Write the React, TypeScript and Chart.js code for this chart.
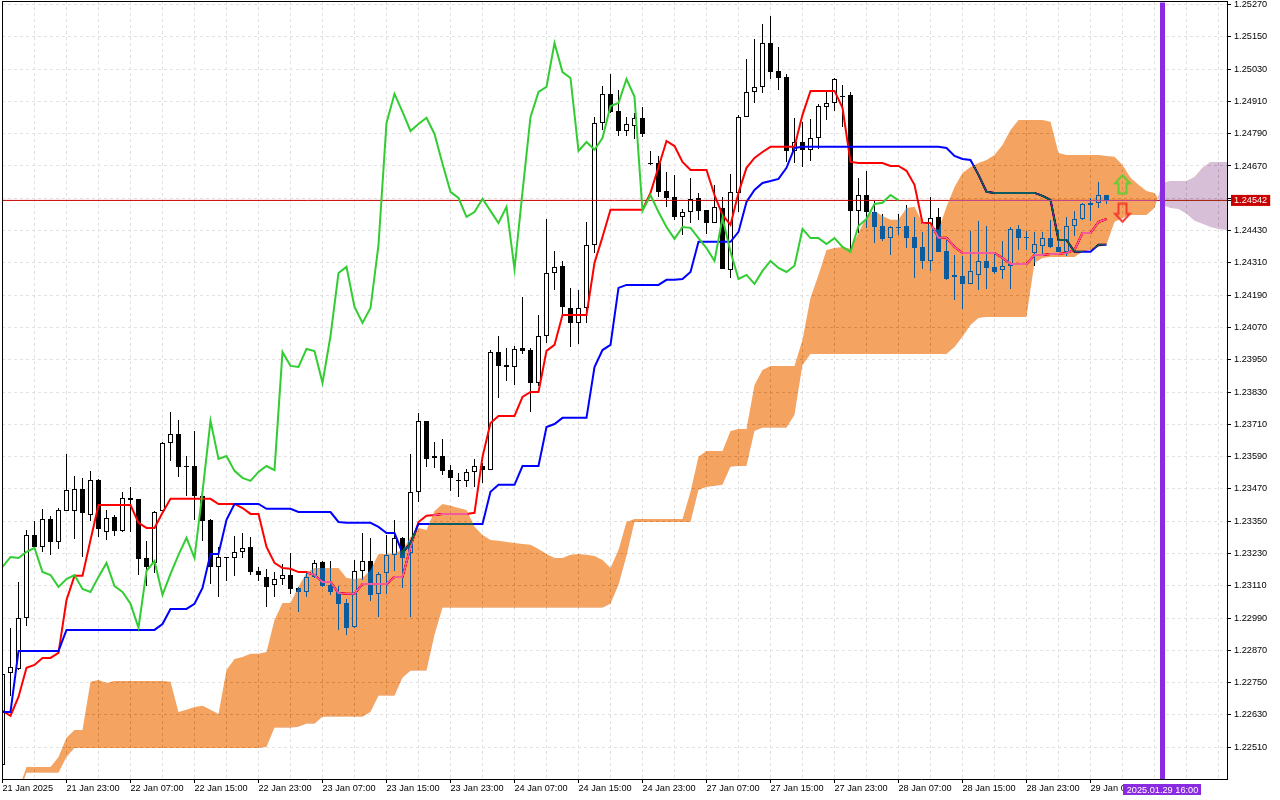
import { useEffect, useRef } from "react";
import { Chart, registerables } from "chart.js";

const opens = [1.22444,1.22786,1.22801,1.22990,1.23299,1.23254,1.23358,1.23273,1.23388,1.23388,1.23470,1.23373,1.23503,1.23310,1.23366,1.23314,1.23436,1.23433,1.23213,1.23195,1.23388,1.23641,1.23674,1.23555,1.23555,1.23444,1.23355,1.23180,1.23217,1.23213,1.23236,1.23254,1.23165,1.23143,1.23113,1.23135,1.23150,1.23102,1.23087,1.23143,1.23199,1.23113,1.23087,1.23046,1.22957,1.23165,1.23202,1.23080,1.23158,1.23225,1.23288,1.23232,1.23459,1.23723,1.23585,1.23592,1.23540,1.23503,1.23500,1.23533,1.23555,1.23540,1.23979,1.23930,1.23923,1.23994,1.23986,1.23864,1.24038,1.24272,1.24299,1.24142,1.24087,1.24142,1.24377,1.24830,1.24938,1.24875,1.24800,1.24819,1.24849,1.24681,1.24681,1.24577,1.24555,1.24481,1.24499,1.24551,1.24507,1.24458,1.24514,1.24284,1.24570,1.24852,1.24945,1.24964,1.25127,1.25023,1.25001,1.24726,1.24759,1.24730,1.24774,1.24889,1.24904,1.24930,1.24934,1.24503,1.24562,1.24499,1.24447,1.24402,1.24443,1.24447,1.24406,1.24369,1.24317,1.24481,1.24355,1.24258,1.24261,1.24232,1.24265,1.24317,1.24295,1.24284,1.24299,1.24436,1.24406,1.24347,1.24373,1.24402,1.24369,1.24351,1.24447,1.24473,1.24525,1.24533,1.24562];
const highs = [1.22790,1.22954,1.23124,1.23318,1.23351,1.23396,1.23370,1.23399,1.23600,1.23518,1.23511,1.23537,1.23507,1.23392,1.23373,1.23459,1.23477,1.23433,1.23276,1.23388,1.23645,1.23756,1.23726,1.23592,1.23685,1.23448,1.23358,1.23254,1.23217,1.23295,1.23306,1.23291,1.23180,1.23173,1.23161,1.23191,1.23232,1.23106,1.23161,1.23206,1.23202,1.23202,1.23109,1.23061,1.23206,1.23306,1.23288,1.23161,1.23299,1.23355,1.23291,1.23600,1.23752,1.23723,1.23645,1.23656,1.23559,1.23529,1.23544,1.23581,1.23566,1.23986,1.24038,1.23994,1.24001,1.24183,1.23994,1.24116,1.24473,1.24355,1.24317,1.24217,1.24209,1.24462,1.24852,1.24967,1.25012,1.24953,1.24852,1.24867,1.24889,1.24726,1.24707,1.24648,1.24637,1.24510,1.24626,1.24570,1.24507,1.24600,1.24555,1.24640,1.24860,1.25068,1.25142,1.25198,1.25228,1.25112,1.25012,1.24849,1.24834,1.24845,1.24901,1.24945,1.24997,1.24971,1.24945,1.24626,1.24652,1.24540,1.24492,1.24447,1.24492,1.24525,1.24481,1.24425,1.24555,1.24514,1.24395,1.24339,1.24336,1.24429,1.24466,1.24447,1.24343,1.24392,1.24443,1.24451,1.24429,1.24425,1.24425,1.24470,1.24432,1.24481,1.24503,1.24533,1.24551,1.24611,1.24562];
const lows = [1.22437,1.22701,1.22797,1.22960,1.23254,1.23236,1.23225,1.23247,1.23388,1.23284,1.23217,1.23351,1.23291,1.23280,1.23295,1.23310,1.23310,1.23150,1.23109,1.23158,1.23388,1.23574,1.23514,1.23444,1.23355,1.23277,1.23117,1.23069,1.23128,1.23147,1.23213,1.23150,1.23128,1.23031,1.23069,1.23113,1.23080,1.23013,1.23069,1.23139,1.23106,1.23076,1.22946,1.22927,1.22954,1.23132,1.23054,1.22994,1.23080,1.23165,1.23102,1.22994,1.23422,1.23552,1.23548,1.23522,1.23462,1.23440,1.23477,1.23477,1.23492,1.23540,1.23808,1.23871,1.23856,1.23971,1.23756,1.23853,1.24012,1.24209,1.24116,1.23997,1.24008,1.24087,1.24347,1.24804,1.24867,1.24782,1.24782,1.24771,1.24778,1.24674,1.24555,1.24518,1.24470,1.24414,1.24458,1.24470,1.24418,1.24458,1.24287,1.24254,1.24499,1.24852,1.24904,1.24941,1.24993,1.24953,1.24685,1.24681,1.24666,1.24689,1.24733,1.24841,1.24875,1.24815,1.24358,1.24421,1.24440,1.24384,1.24392,1.24339,1.24414,1.24365,1.24254,1.24287,1.24280,1.24351,1.24247,1.24172,1.24139,1.24232,1.24209,1.24213,1.24269,1.24250,1.24213,1.24358,1.24358,1.24299,1.24343,1.24365,1.24351,1.24336,1.24410,1.24470,1.24466,1.24514,1.24529];
const closes = [1.22783,1.22809,1.22990,1.23299,1.23254,1.23358,1.23273,1.23392,1.23466,1.23470,1.23381,1.23503,1.23321,1.23362,1.23314,1.23436,1.23429,1.23210,1.23180,1.23384,1.23641,1.23674,1.23552,1.23552,1.23444,1.23351,1.23180,1.23217,1.23213,1.23236,1.23251,1.23161,1.23150,1.23106,1.23135,1.23150,1.23098,1.23087,1.23143,1.23195,1.23109,1.23087,1.23043,1.22954,1.23165,1.23202,1.23076,1.23154,1.23225,1.23288,1.23213,1.23459,1.23723,1.23581,1.23592,1.23537,1.23511,1.23500,1.23533,1.23555,1.23540,1.23979,1.23927,1.23923,1.23990,1.23982,1.23864,1.24038,1.24272,1.24295,1.24146,1.24087,1.24142,1.24377,1.24830,1.24938,1.24871,1.24800,1.24826,1.24849,1.24789,1.24678,1.24574,1.24551,1.24481,1.24499,1.24548,1.24503,1.24458,1.24518,1.24287,1.24574,1.24852,1.24945,1.24964,1.25127,1.25019,1.24997,1.24726,1.24759,1.24730,1.24774,1.24893,1.24904,1.24993,1.24927,1.24503,1.24562,1.24499,1.24443,1.24399,1.24443,1.24440,1.24402,1.24365,1.24317,1.24477,1.24351,1.24250,1.24265,1.24232,1.24280,1.24317,1.24291,1.24276,1.24299,1.24436,1.24402,1.24402,1.24380,1.24402,1.24369,1.24351,1.24447,1.24473,1.24529,1.24533,1.24562,1.24542];
const tenkan = [1.22645,1.22627,1.22697,1.22805,1.22816,1.22842,1.22842,1.22861,1.23057,1.23147,1.23147,1.23280,1.23410,1.23410,1.23410,1.23410,1.23410,1.23344,1.23325,1.23325,1.23381,1.23433,1.23433,1.23433,1.23433,1.23433,1.23433,1.23414,1.23414,1.23414,1.23399,1.23377,1.23377,1.23254,1.23195,1.23176,1.23173,1.23161,1.23161,1.23150,1.23124,1.23124,1.23083,1.23080,1.23080,1.23117,1.23117,1.23117,1.23117,1.23143,1.23143,1.23254,1.23347,1.23370,1.23373,1.23377,1.23377,1.23377,1.23377,1.23381,1.23589,1.23715,1.23741,1.23741,1.23741,1.23812,1.23830,1.23830,1.23983,1.24005,1.24116,1.24116,1.24116,1.24116,1.24310,1.24406,1.24507,1.24507,1.24507,1.24507,1.24507,1.24570,1.24666,1.24763,1.24744,1.24685,1.24655,1.24655,1.24655,1.24562,1.24488,1.24451,1.24570,1.24663,1.24700,1.24722,1.24741,1.24741,1.24741,1.24741,1.24860,1.24949,1.24949,1.24949,1.24949,1.24886,1.24685,1.24681,1.24681,1.24681,1.24681,1.24670,1.24670,1.24652,1.24600,1.24458,1.24458,1.24403,1.24403,1.24369,1.24347,1.24347,1.24347,1.24347,1.24347,1.24328,1.24306,1.24306,1.24306,1.24339,1.24339,1.24343,1.24343,1.24347,1.24358,1.24421,1.24421,1.24462,1.24473];
const kijun = [1.22641,1.22641,1.22868,1.22868,1.22868,1.22868,1.22868,1.22868,1.22946,1.22946,1.22946,1.22946,1.22946,1.22946,1.22946,1.22946,1.22946,1.22946,1.22946,1.22946,1.22968,1.23024,1.23024,1.23024,1.23043,1.23102,1.23228,1.23228,1.23355,1.23414,1.23414,1.23414,1.23414,1.23396,1.23396,1.23396,1.23396,1.23384,1.23384,1.23384,1.23384,1.23384,1.23347,1.23344,1.23344,1.23344,1.23344,1.23329,1.23306,1.23306,1.23232,1.23269,1.23340,1.23340,1.23340,1.23340,1.23340,1.23340,1.23340,1.23340,1.23340,1.23459,1.23485,1.23485,1.23485,1.23555,1.23555,1.23555,1.23700,1.23711,1.23734,1.23734,1.23734,1.23734,1.23923,1.23986,1.24005,1.24217,1.24228,1.24228,1.24228,1.24228,1.24228,1.24247,1.24247,1.24250,1.24276,1.24388,1.24388,1.24388,1.24388,1.24388,1.24425,1.24536,1.24581,1.24607,1.24614,1.24622,1.24663,1.24737,1.24741,1.24741,1.24741,1.24741,1.24741,1.24741,1.24741,1.24741,1.24741,1.24741,1.24741,1.24741,1.24741,1.24741,1.24741,1.24741,1.24741,1.24741,1.24737,1.24707,1.24696,1.24692,1.24637,1.24574,1.24570,1.24570,1.24570,1.24570,1.24570,1.24570,1.24559,1.24544,1.24395,1.24395,1.24351,1.24351,1.24351,1.24377,1.24377];
const chikou = [1.23180,1.23217,1.23213,1.23236,1.23251,1.23161,1.23150,1.23106,1.23135,1.23150,1.23098,1.23087,1.23143,1.23195,1.23109,1.23087,1.23043,1.22954,1.23165,1.23202,1.23076,1.23154,1.23225,1.23288,1.23213,1.23459,1.23723,1.23581,1.23592,1.23537,1.23511,1.23500,1.23533,1.23555,1.23540,1.23979,1.23927,1.23923,1.23990,1.23982,1.23864,1.24038,1.24272,1.24295,1.24146,1.24087,1.24142,1.24377,1.24830,1.24938,1.24871,1.24800,1.24826,1.24849,1.24789,1.24678,1.24574,1.24551,1.24481,1.24499,1.24548,1.24503,1.24458,1.24518,1.24287,1.24574,1.24852,1.24945,1.24964,1.25127,1.25019,1.24997,1.24726,1.24759,1.24730,1.24774,1.24893,1.24904,1.24993,1.24927,1.24503,1.24562,1.24499,1.24443,1.24399,1.24443,1.24440,1.24402,1.24365,1.24317,1.24477,1.24351,1.24250,1.24265,1.24232,1.24280,1.24317,1.24291,1.24276,1.24299,1.24436,1.24402,1.24402,1.24380,1.24402,1.24369,1.24351,1.24447,1.24473,1.24529,1.24533,1.24562,1.24542];
const spanA = [1.22314,1.22314,1.22351,1.22437,1.22437,1.22437,1.22437,1.22474,1.22545,1.22574,1.22574,1.22753,1.22760,1.22749,1.22756,1.22756,1.22756,1.22756,1.22756,1.22756,1.22756,1.22753,1.22641,1.22649,1.22660,1.22664,1.22649,1.22634,1.22797,1.22838,1.22845,1.22857,1.22857,1.22864,1.22983,1.23046,1.23046,1.23106,1.23158,1.23176,1.23176,1.23176,1.23176,1.23139,1.23135,1.23139,1.23169,1.23228,1.23228,1.23232,1.23243,1.23291,1.23325,1.23317,1.23388,1.23414,1.23407,1.23399,1.23392,1.23329,1.23299,1.23280,1.23277,1.23273,1.23269,1.23265,1.23262,1.23247,1.23228,1.23213,1.23213,1.23225,1.23228,1.23225,1.23221,1.23206,1.23176,1.23243,1.23347,1.23358,1.23358,1.23358,1.23358,1.23358,1.23358,1.23358,1.23459,1.23589,1.23611,1.23611,1.23611,1.23685,1.23693,1.23693,1.23856,1.23912,1.23927,1.23927,1.23927,1.23927,1.24024,1.24180,1.24265,1.24358,1.24365,1.24369,1.24362,1.24421,1.24481,1.24503,1.24484,1.24470,1.24470,1.24514,1.24518,1.24458,1.24451,1.24432,1.24518,1.24592,1.24644,1.24666,1.24681,1.24692,1.24711,1.24748,1.24804,1.24841,1.24841,1.24841,1.24841,1.24834,1.24718,1.24711,1.24711,1.24711,1.24711,1.24711,1.24707,1.24704,1.24674,1.24626,1.24600,1.24577,1.24570,1.24525,1.24514,1.24510,1.24492,1.24466,1.24455,1.24443,1.24436,1.24432,1.24432];
const spanB = [1.22277,1.22277,1.22333,1.22415,1.22415,1.22415,1.22415,1.22415,1.22474,1.22507,1.22507,1.22507,1.22507,1.22507,1.22507,1.22507,1.22507,1.22507,1.22507,1.22507,1.22507,1.22507,1.22507,1.22507,1.22507,1.22507,1.22507,1.22507,1.22507,1.22507,1.22507,1.22507,1.22507,1.22511,1.22582,1.22582,1.22582,1.22586,1.22597,1.22597,1.22623,1.22623,1.22623,1.22623,1.22623,1.22623,1.22641,1.22701,1.22701,1.22701,1.22768,1.22794,1.22794,1.22794,1.22927,1.23028,1.23028,1.23028,1.23028,1.23028,1.23028,1.23028,1.23028,1.23028,1.23028,1.23028,1.23028,1.23028,1.23028,1.23028,1.23028,1.23028,1.23028,1.23028,1.23028,1.23028,1.23043,1.23113,1.23221,1.23347,1.23347,1.23347,1.23347,1.23347,1.23347,1.23347,1.23347,1.23466,1.23477,1.23481,1.23485,1.23552,1.23555,1.23555,1.23685,1.23697,1.23697,1.23697,1.23697,1.23745,1.23930,1.23971,1.23971,1.23971,1.23971,1.23971,1.23971,1.23971,1.23971,1.23971,1.23971,1.23971,1.23971,1.23971,1.23971,1.23971,1.23971,1.23971,1.23971,1.23997,1.24035,1.24079,1.24105,1.24109,1.24109,1.24109,1.24109,1.24109,1.24109,1.24310,1.24328,1.24332,1.24332,1.24332,1.24332,1.24351,1.24358,1.24369,1.24377,1.24462,1.24477,1.24488,1.24488,1.24488,1.24514,1.24607,1.24614,1.24614,1.24614,1.24629,1.24663,1.24685,1.24685,1.24685,1.24685];
const priceTicks = [1.2251,1.2263,1.2275,1.2287,1.2299,1.2311,1.2323,1.2335,1.2347,1.2359,1.2371,1.2383,1.2395,1.2407,1.2419,1.2431,1.2443,1.2455,1.2467,1.2479,1.2491,1.2503,1.2515,1.2527];
const timeLabels = ["21 Jan 2025","21 Jan 23:00","22 Jan 07:00","22 Jan 15:00","22 Jan 23:00","23 Jan 07:00","23 Jan 15:00","23 Jan 23:00","24 Jan 07:00","24 Jan 15:00","24 Jan 23:00","27 Jan 07:00","27 Jan 15:00","27 Jan 23:00","28 Jan 07:00","28 Jan 15:00","28 Jan 23:00","29 Jan 07:00"];
const bidPrice = 1.24542;
const hiddenPriceLabel = 1.2455;
const cursorBar = 145;
const cursorLabel = "2025.01.29 16:00";
const buyArrow = { bar: 140, price: 1.24602 };
const sellArrow = { bar: 140, price: 1.24496 };

const Y_MIN = 1.22392;
const Y_MAX = 1.25283;
const X_MIN = -0.0625;
const X_MAX = 153.0625;
const FONT = "'Liberation Sans', Arial, sans-serif";
const FONT_SIZE = 9.2;
const GRID = "#E2E2E2";
const CLOUD_UP_XOR = "#0B5B9F";
const CLOUD_DOWN_XOR = "#274027";
const PURPLE = "#8A2BE2";

const xy = (arr: number[]) => arr.map((y, x) => ({ x, y }));

function arrowImage(color: string, up: boolean) {
  const c = document.createElement("canvas");
  c.width = 19;
  c.height = 21;
  const g = c.getContext("2d")!;
  const pts = [[9.5, 1.5], [17, 9.5], [13.5, 9.5], [13.5, 19.5], [5.5, 19.5], [5.5, 9.5], [2, 9.5]];
  g.beginPath();
  pts.forEach(([x, y], i) => {
    const py = up ? y : 21 - y;
    if (i) g.lineTo(x, py);
    else g.moveTo(x, py);
  });
  g.closePath();
  g.lineWidth = 2;
  g.strokeStyle = color;
  g.lineJoin = "miter";
  g.stroke();
  return c;
}

const pixelPlugin = {
  id: "pixelBlend",
  beforeDatasetDraw(chart: any, args: any) {
    const ds = chart.data.datasets[args.index];
    if (ds.label === "Senkou Span A") chart.ctx.globalCompositeOperation = "difference";
    if (args.meta.type === "bar") {
      for (const el of args.meta.data) {
        const top = Math.round(el.y);
        let base = Math.round(el.base);
        if (base === top) base = top + 1;
        el.y = top;
        el.base = base;
        el.height = base - top;
        el.x = Math.floor(el.x) + 0.5;
      }
    }
  },
  afterDatasetDraw(chart: any) {
    chart.ctx.globalCompositeOperation = "source-over";
  },
};

const framePlugin = {
  id: "frame",
  beforeDraw(chart: any) {
    const { ctx, width, height } = chart;
    ctx.save();
    ctx.fillStyle = "#fff";
    ctx.fillRect(0, 0, width, height);
    ctx.restore();
  },
  afterDraw(chart: any) {
    const { ctx, chartArea } = chart;
    ctx.save();
    ctx.fillStyle = "#000";
    ctx.fillRect(chartArea.left, chartArea.top, chartArea.right - chartArea.left, 1);
    ctx.fillRect(chartArea.left, chartArea.top, 1, chartArea.bottom - chartArea.top);
    const cx = chart.scales.x.getPixelForValue(cursorBar);
    ctx.fillStyle = PURPLE;
    ctx.fillRect(cx - 39.5, 784, 78, 11);
    ctx.fillStyle = "#fff";
    ctx.font = `${FONT_SIZE}px ${FONT}`;
    ctx.textAlign = "center";
    ctx.textBaseline = "middle";
    ctx.fillText(cursorLabel, cx, 790);
    ctx.restore();
  },
};

Chart.register(pixelPlugin);
Chart.register(...registerables);

export default function App() {
  const ref = useRef<HTMLCanvasElement>(null);
  useEffect(() => {
    const line = { type: "line", pointRadius: 0, tension: 0, borderWidth: 2, fill: false };
    const chart = new Chart(ref.current!, {
      type: "bar",
      data: {
        datasets: [
          { type: "bar", label: "Wick", order: 9, grouped: false, barThickness: 1, borderWidth: 0, inflateAmount: 0,
            backgroundColor: "#000", data: lows.map((l, x) => ({ x, y: [l, highs[x]] })) },
          { type: "bar", label: "Body", order: 8, grouped: false, barThickness: 5, borderWidth: 1, borderSkipped: false, inflateAmount: 0,
            borderColor: "#000", backgroundColor: opens.map((o, i) => (closes[i] >= o ? "#fff" : "#000")),
            data: opens.map((o, x) => ({ x, y: [o, closes[x]] })) },
          { ...line, label: "Tenkan-sen", order: 7, borderColor: "#FF0000", data: xy(tenkan) },
          { ...line, label: "Kijun-sen", order: 6, borderColor: "#0000FF", data: xy(kijun) },
          { ...line, label: "Bid", order: 5, borderWidth: 1, borderColor: "#C80000", data: [{ x: X_MIN, y: bidPrice }, { x: X_MAX, y: bidPrice }] },
          { ...line, label: "Senkou Span A", order: 4, showLine: false, borderWidth: 0,
            fill: { target: "+1", above: CLOUD_UP_XOR, below: CLOUD_DOWN_XOR }, data: xy(spanA) },
          { ...line, label: "Senkou Span B", order: 3, showLine: false, borderWidth: 0, data: xy(spanB) },
          { ...line, label: "Chikou Span", order: 2, borderColor: "#32CD32", data: xy(chikou) },
          { ...line, label: "Cursor", order: 1, borderWidth: 5, borderColor: PURPLE, data: [{ x: cursorBar, y: Y_MIN }, { x: cursorBar, y: 1.25277 }] },
          { type: "scatter", label: "Buy", order: 0, pointRadius: 10, pointStyle: arrowImage("#66CC33", true), data: [{ x: buyArrow.bar, y: buyArrow.price }] },
          { type: "scatter", label: "Sell", order: 0, pointRadius: 10, pointStyle: arrowImage("#F23A2E", false), data: [{ x: sellArrow.bar, y: sellArrow.price }] },
        ] as any,
      },
      options: {
        responsive: false,
        animation: false,
        devicePixelRatio: 1,
        events: [],
        layout: { padding: { left: 2, top: 1, right: 0, bottom: 0 }, autoPadding: false },
        plugins: { legend: { display: false }, tooltip: { enabled: false }, title: { display: false } },
        scales: {
          x: {
            type: "linear",
            min: X_MIN,
            max: X_MAX,
            offset: false,
            afterFit: (s: any) => { s.height = 21; s.paddingLeft = 0; s.paddingRight = 0; s.paddingTop = 0; s.paddingBottom = 0; },
            afterBuildTicks: (s: any) => {
              const t = [];
              for (let i = 0; i <= X_MAX; i += 4) t.push({ value: i });
              s.ticks = t;
            },
            border: { color: "#000", width: 1, dash: [3, 3] },
            grid: {
              offset: false,
              color: GRID,
              tickLength: 4,
              tickBorderDash: [],
              tickColor: (c: any) => (c.tick && c.tick.value % 8 === 0 && timeLabels[c.tick.value / 8] ? "#000" : "rgba(0,0,0,0)"),
            },
            ticks: {
              autoSkip: false,
              maxRotation: 0,
              align: "start",
              padding: 0,
              color: "#000",
              font: { family: FONT, size: FONT_SIZE },
              callback: (v: any) => (v % 8 === 0 && timeLabels[v / 8]) || "",
            },
          },
          y: {
            type: "linear",
            position: "right",
            min: Y_MIN,
            max: Y_MAX,
            afterFit: (s: any) => { s.width = 53; s.paddingLeft = 0; s.paddingRight = 0; s.paddingTop = 0; s.paddingBottom = 0; },
            afterBuildTicks: (s: any) => {
              s.ticks = [...priceTicks, bidPrice].sort((a, b) => a - b).map((value) => ({ value }));
            },
            border: { color: "#000", width: 1, dash: [3, 3] },
            grid: {
              color: (c: any) => (c.tick && c.tick.value === bidPrice ? "rgba(0,0,0,0)" : GRID),
              tickLength: 4,
              tickBorderDash: [],
              tickColor: "#000",
            },
            ticks: {
              autoSkip: false,
              padding: 3,
              font: { family: FONT, size: FONT_SIZE },
              color: (c: any) => (c.tick && c.tick.value === bidPrice ? "#fff" : "#000"),
              showLabelBackdrop: (c: any) => !!c.tick && c.tick.value === bidPrice,
              backdropColor: "#C80000",
              backdropPadding: { top: 0, bottom: 0, left: 3, right: 3 },
              callback: (v: any) => (v === hiddenPriceLabel ? "" : Number(v).toFixed(5)),
            },
          },
        },
      } as any,
      plugins: [framePlugin],
    } as any);
    return () => chart.destroy();
  }, []);
  return (
    <canvas
      ref={ref}
      width={1280}
      height={800}
      style={{ position: "absolute", left: 0, top: 0, display: "block", width: 1280, height: 800 }}
    />
  );
}
